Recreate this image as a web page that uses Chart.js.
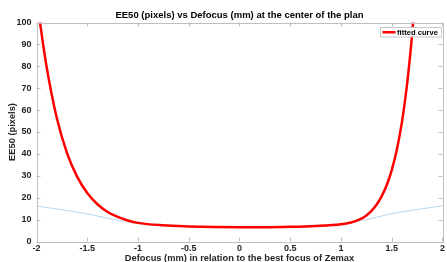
<!DOCTYPE html>
<html>
<head>
<meta charset="utf-8">
<script src="https://cdn.jsdelivr.net/npm/chart.js@4/dist/chart.umd.min.js"></script>
<style>
html,body{margin:0;padding:0;background:#fff;}
#wrap{width:447px;height:262px;position:relative;}
</style>
</head>
<body>
<div id="wrap"><canvas id="c" width="447" height="262"></canvas></div>
<script>
const titleText = "EE50 (pixels) vs Defocus (mm) at the center of the plan";
const xLabel = "Defocus (mm) in relation to the best focus of Zemax";
const yLabel = "EE50 (pixels)";
const legendLabel = "fitted curve";

const xTicks = [-2, -1.5, -1, -0.5, 0, 0.5, 1, 1.5, 2];
const yTicks = [0, 10, 20, 30, 40, 50, 60, 70, 80, 90, 100];

// fitted curve (red)
const fitX = [-1.99, -1.96, -1.9, -1.8, -1.7, -1.6, -1.5, -1.4, -1.3, -1.2, -1.1, -1.0, -0.75, -0.5, -0.25, 0, 0.25, 0.5, 0.75, 1.0, 1.1, 1.15, 1.2, 1.25, 1.3, 1.35, 1.4, 1.45, 1.5, 1.55, 1.6, 1.65, 1.7, 1.73];
const fitY = [109.5, 98.3, 79.7, 56.4, 40.5, 29.6, 22.1, 17.0, 13.5, 11.2, 9.6, 8.5, 7.4, 6.9, 6.6, 6.5, 6.5, 6.7, 7.1, 7.9, 8.7, 9.4, 10.4, 11.9, 14.0, 16.8, 20.6, 25.7, 32.6, 41.9, 54.4, 71.4, 94.2, 111.6];

// measured data (blue)
const dataX = [-2, -1.75, -1.5, -1.25, -1, -0.75, -0.5, -0.25, 0, 0.25, 0.5, 0.75, 1, 1.25, 1.5, 1.75, 2];
const dataY = [16.2, 14.5, 12.6, 10.2, 8.2, 7.3, 6.9, 6.6, 6.5, 6.5, 6.7, 7.1, 7.9, 10.0, 12.7, 14.6, 16.3];

const FONT = "'Liberation Sans', Arial, Helvetica, sans-serif";
const TXT = '#262626';
const AXC = '#bfbfbf';

const boxPlugin = {
  id: 'boxPlugin',
  afterDatasetsDraw(chart) {
    const {ctx, chartArea: a, scales} = chart;
    ctx.save();
    ctx.strokeStyle = AXC;
    ctx.lineWidth = 1;
    ctx.beginPath();
    ctx.rect(Math.round(a.left) + 0.5, Math.round(a.top) + 0.5, Math.round(a.right - a.left), Math.round(a.bottom - a.top));
    ctx.stroke();
    ctx.beginPath();
    const tl = 4;
    xTicks.forEach(v => {
      const px = Math.round(scales.x.getPixelForValue(v)) + 0.5;
      ctx.moveTo(px, a.bottom); ctx.lineTo(px, a.bottom - tl);
      ctx.moveTo(px, a.top); ctx.lineTo(px, a.top + tl);
    });
    yTicks.forEach(v => {
      const py = Math.round(scales.y.getPixelForValue(v)) + 0.5;
      ctx.moveTo(a.left, py); ctx.lineTo(a.left + tl, py);
      ctx.moveTo(a.right, py); ctx.lineTo(a.right - tl, py);
    });
    ctx.stroke();
    // title
    ctx.fillStyle = '#000';
    ctx.font = "bold 9.5px " + FONT;
    ctx.textAlign = 'center';
    ctx.textBaseline = 'middle';
    ctx.fillText(titleText, (a.left + a.right) / 2, 15.5);
    // legend
    const lx = 380, ly = 27, lw = 61, lh = 9.5;
    ctx.fillStyle = '#fff';
    ctx.fillRect(lx, ly, lw, lh);
    ctx.strokeStyle = '#c8c8c8';
    ctx.strokeRect(lx + 0.5, ly + 0.5, lw, lh);
    ctx.strokeStyle = '#ff0000';
    ctx.lineWidth = 2.5;
    ctx.beginPath();
    ctx.moveTo(382.5, ly + lh / 2 + 0.5);
    ctx.lineTo(395.5, ly + lh / 2 + 0.5);
    ctx.stroke();
    ctx.fillStyle = '#000';
    ctx.font = "bold 7.6px " + FONT;
    ctx.textAlign = 'left';
    ctx.fillText(legendLabel, 397, ly + lh / 2 + 0.8);
    ctx.restore();
  }
};

new Chart(document.getElementById('c'), {
  type: 'scatter',
  data: {
    datasets: [
      {
        label: 'data',
        data: dataX.map((x, i) => ({x, y: dataY[i]})),
        showLine: true,
        borderColor: '#b4d7ef',
        borderWidth: 1,
        pointRadius: 0,
        tension: 0.3,
        order: 2
      },
      {
        label: legendLabel,
        data: fitX.map((x, i) => ({x, y: fitY[i]})),
        showLine: true,
        borderColor: '#ff0000',
        backgroundColor: '#ff0000',
        borderWidth: 2.5,
        pointRadius: 0,
        cubicInterpolationMode: 'monotone',
        order: 1
      }
    ]
  },
  options: {
    responsive: false,
    animation: false,
    devicePixelRatio: 1,
    layout: {padding: {top: 22.5, right: 3.5, left: 0, bottom: 0}},
    plugins: {
      title: {display: false},
      tooltip: {enabled: false},
      legend: {display: false}
    },
    scales: {
      x: {
        type: 'linear',
        min: -2, max: 2,
        afterBuildTicks: s => { s.ticks = xTicks.map(v => ({value: v})); },
        afterFit: s => { s.height = 20.5; },
        grid: {display: false, drawTicks: false},
        border: {display: false},
        ticks: {
          color: TXT, padding: 2,
          font: {family: FONT, size: 9, weight: 'bold'},
          maxRotation: 0,
          callback: v => String(v)
        },
        title: {
          display: true, text: xLabel, color: TXT,
          font: {family: FONT, size: 9.3, weight: 'bold'},
          padding: {top: 2, bottom: -2}
        }
      },
      y: {
        type: 'linear',
        min: 0, max: 100,
        afterBuildTicks: s => { s.ticks = yTicks.map(v => ({value: v})); },
        afterFit: s => { s.width = 36.5; },
        grid: {display: false, drawTicks: false},
        border: {display: false},
        ticks: {
          color: TXT, padding: 5,
          font: {family: FONT, size: 9, weight: 'bold'},
          callback: v => String(v)
        },
        title: {
          display: true, text: yLabel, color: TXT,
          font: {family: FONT, size: 9.3, weight: 'bold'},
          padding: {top: 7, bottom: 0}
        }
      }
    }
  },
  plugins: [boxPlugin]
});
</script>
</body>
</html>
